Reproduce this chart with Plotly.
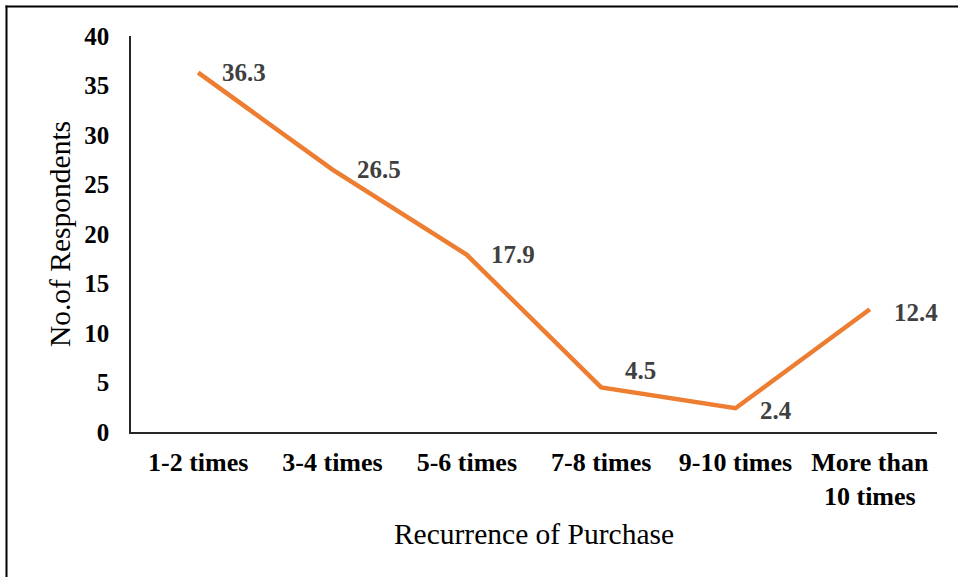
import plotly.graph_objects as go

# Purchase recurrence survey results (% of respondents)
categories = ["1-2 times", "3-4 times", "5-6 times", "7-8 times", "9-10 times", "More than<br>10 times"]
respondents = [36.3, 26.5, 17.9, 4.5, 2.4, 12.4]
y_ticks = [0, 5, 10, 15, 20, 25, 30, 35, 40]

# label offsets (px) for each data label
label_dx = [22, 22, 22, 22, 22, 22]
label_dy = [0, 0, 0, 17, -2, -3]

FONT = "Liberation Serif, Times New Roman, serif"
W, H = 958, 577
L, R, T, B = 131, 21, 36, 145

fig = go.Figure()
fig.add_trace(go.Scatter(
    x=categories, y=respondents, mode="lines",
    line=dict(color="#ED7D31", width=4.5),
    hoverinfo="x+y",
))

for c, v, dx, dy in zip(categories, respondents, label_dx, label_dy):
    fig.add_annotation(
        x=c, y=v, text=f"<b>{v}</b>", showarrow=False,
        xanchor="left", yanchor="middle", xshift=dx, yshift=dy,
        font=dict(family=FONT, size=25, color="#404040"),
    )

# frame around the figure (top and left edges)
pw, ph = W - L - R, H - T - B
def px_x(p):
    return (p - L) / pw
def px_y(p):
    return (H - B - p) / ph
fig.add_shape(type="line", xref="paper", yref="paper",
              x0=px_x(5.5), x1=px_x(W), y0=px_y(6.5), y1=px_y(6.5),
              line=dict(color="#000000", width=2))
fig.add_shape(type="line", xref="paper", yref="paper",
              x0=px_x(6.5), x1=px_x(6.5), y0=px_y(5.5), y1=px_y(H),
              line=dict(color="#000000", width=2))

fig.update_layout(
    width=W, height=H,
    margin=dict(l=L, r=R, t=T, b=B),
    paper_bgcolor="white", plot_bgcolor="white",
    showlegend=False,
    font=dict(family=FONT, color="#000000"),
    xaxis=dict(
        type="category", range=[-0.5, len(categories) - 0.5],
        showline=True, linecolor="#262626", linewidth=1.5,
        showgrid=False, zeroline=False, ticks="",
        tickfont=dict(family=FONT, size=26, color="#000000"),
        tickprefix="<b>", ticksuffix="</b>",
        ticklabelstandoff=6,
        title=dict(text="Recurrence of Purchase", standoff=14,
                   font=dict(family=FONT, size=29.5, color="#000000")),
        automargin=False,
    ),
    yaxis=dict(
        range=[0, 40], tickvals=y_ticks,
        ticktext=[f"<b>{t}</b>" for t in y_ticks],
        showline=True, linecolor="#262626", linewidth=1.5,
        showgrid=False, zeroline=False, ticks="",
        tickfont=dict(family=FONT, size=25, color="#000000"),
        ticklabelstandoff=15,
        title=dict(text="No.of Respondents", standoff=5,
                   font=dict(family=FONT, size=29.5, color="#000000")),
        automargin=False,
    ),
)

fig.write_html("out.html")
